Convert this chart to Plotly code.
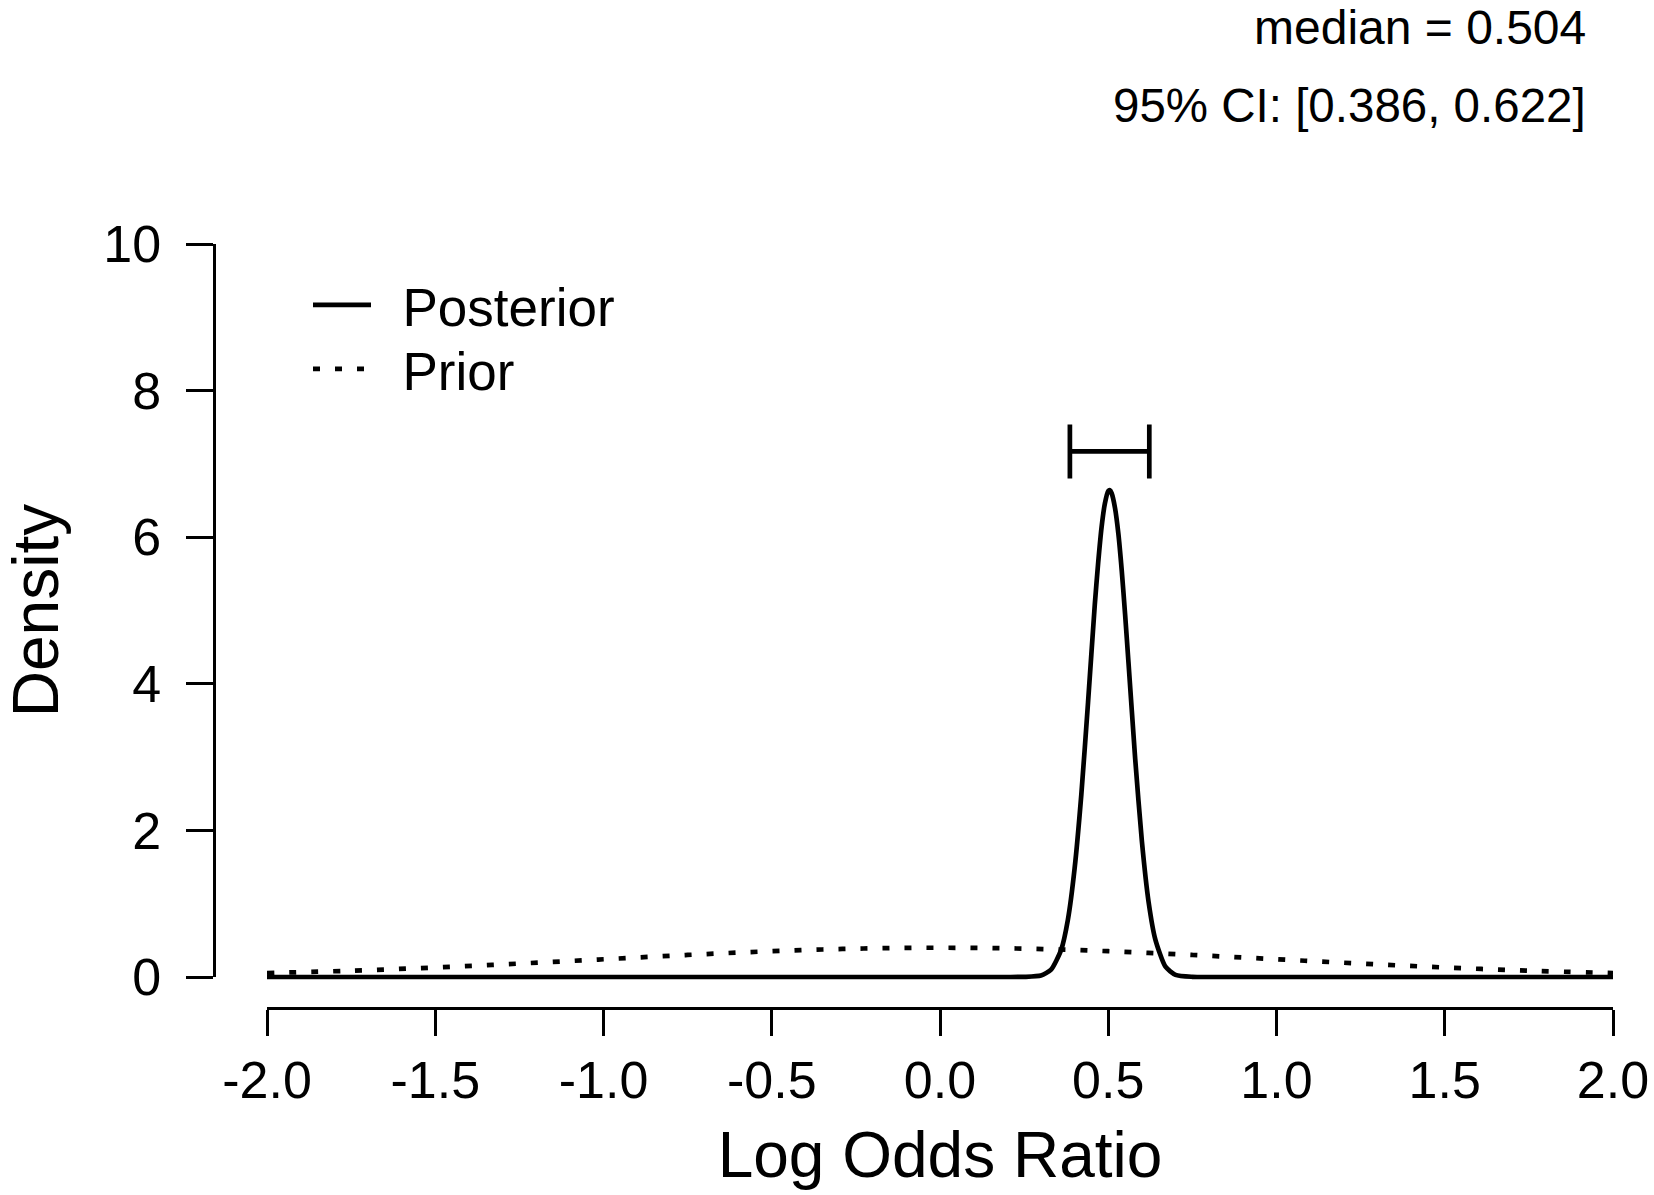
import plotly.graph_objects as go

# ---------------- data ----------------
posterior_x = [-2.0, -1.0, 0.0, 0.20, 0.25, 0.30, 0.33, 0.36, 0.38, 0.40, 0.42, 0.44,
               0.46, 0.47, 0.48, 0.49, 0.50, 0.505, 0.51, 0.52, 0.53, 0.54, 0.55,
               0.56, 0.58, 0.60, 0.62, 0.64, 0.67, 0.70, 0.75, 0.80, 1.0, 2.0]
posterior_y = [0.0, 0.0, 0.0, 0.0, 0.002, 0.02, 0.10, 0.37, 0.78, 1.48, 2.49, 3.75,
               5.08, 5.65, 6.13, 6.46, 6.63, 6.64, 6.60, 6.40, 6.05, 5.55, 4.95,
               4.30, 2.98, 1.85, 1.02, 0.51, 0.14, 0.03, 0.003, 0.0, 0.0, 0.0]

prior_x = [-2.0, -1.75, -1.5, -1.25, -1.0, -0.75, -0.5, -0.25, 0.0,
           0.25, 0.5, 0.75, 1.0, 1.25, 1.5, 1.75, 2.0]
prior_y = [0.054, 0.086, 0.130, 0.183, 0.242, 0.301, 0.352, 0.387, 0.399,
           0.387, 0.352, 0.301, 0.242, 0.183, 0.130, 0.086, 0.054]

ci_median = 0.504
ci_lower = 0.386
ci_upper = 0.622
ci_height = 7.17

x_tickvals = [-2.0, -1.5, -1.0, -0.5, 0.0, 0.5, 1.0, 1.5, 2.0]
x_ticktext = ["-2.0", "-1.5", "-1.0", "-0.5", "0.0", "0.5", "1.0", "1.5", "2.0"]
y_tickvals = [0, 2, 4, 6, 8, 10]
y_ticktext = ["0", "2", "4", "6", "8", "10"]

median_label = "median = 0.504"
ci_label = "95% CI: [0.386, 0.622]"

# ---------------- geometry (pixels of the page) ----------------
W, H = 1654, 1195
FONT = "Liberation Sans, Arial, Helvetica, sans-serif"


def fx(px):
    return px / W


def fy(px):
    return 1 - px / H


X_LEFT, X_RIGHT = 267, 1613      # pixel of x=-2 and x=2
Y_ZERO, Y_TOP = 977, 244         # pixel of y=0 and y=10
Y_AXIS_X = 213.5                 # detached y axis line
X_AXIS_Y = 1007                  # detached x axis line

px_per_unit_y = (Y_ZERO - Y_TOP) / 10.0
y_low = -(X_AXIS_Y - Y_ZERO) / px_per_unit_y

fig = go.Figure()

fig.add_trace(go.Scatter(
    x=posterior_x, y=posterior_y, mode="lines", name="\u2002Posterior",
    legend="legend",
    line=dict(color="black", width=4.7, shape="spline", smoothing=0.6),
    hoverinfo="skip"))

fig.add_trace(go.Scatter(
    x=prior_x, y=prior_y, mode="lines", name="\u2002Prior",
    legend="legend2",
    line=dict(color="black", width=4.7, dash="7px,15px", shape="spline"),
    hoverinfo="skip"))

fig.add_trace(go.Scatter(
    x=[ci_median], y=[ci_height], mode="markers", showlegend=False,
    marker=dict(size=1, color="rgba(0,0,0,0)"),
    error_x=dict(type="data", symmetric=False,
                 array=[ci_upper - ci_median],
                 arrayminus=[ci_median - ci_lower],
                 width=27, thickness=4.7, color="black"),
    hoverinfo="skip"))

# trace that makes the detached y axis exist
fig.add_trace(go.Scatter(x=[None], y=[None], yaxis="y2", showlegend=False,
                         hoverinfo="skip"))

legend_common = dict(xanchor="left", yanchor="middle",
                     font=dict(size=53, family=FONT, color="black"),
                     bgcolor="rgba(0,0,0,0)", itemwidth=58, tracegroupgap=0,
                     borderwidth=0)

fig.update_layout(
    template="none",
    width=W, height=H, autosize=False,
    margin=dict(l=0, r=0, t=0, b=0, pad=0),
    paper_bgcolor="white", plot_bgcolor="rgba(0,0,0,0)",
    font=dict(family=FONT, color="black"),
    showlegend=True,
    legend=dict(x=fx(308), y=fy(305), **legend_common),
    legend2=dict(x=fx(308), y=fy(369), **legend_common),
    xaxis=dict(domain=[fx(X_LEFT), fx(X_RIGHT)], range=[-2, 2], anchor="y",
               automargin=False,
               showline=True, linewidth=3, linecolor="black",
               ticks="outside", ticklen=26, tickwidth=2.5, tickcolor="black",
               tickvals=x_tickvals, ticktext=x_ticktext,
               tickfont=dict(size=52, color="black"), ticklabelstandoff=0,
               showgrid=False, zeroline=False,
               title=dict(text="Log Odds Ratio", font=dict(size=64, color="black"),
                          standoff=24)),
    yaxis=dict(domain=[fy(X_AXIS_Y), fy(Y_TOP)], range=[y_low, 10],
               visible=False, showgrid=False, zeroline=False, automargin=False),
    yaxis2=dict(domain=[fy(Y_ZERO), fy(Y_TOP)], range=[0, 10],
                anchor="free", position=fx(Y_AXIS_X), side="left",
                automargin=False,
                showline=True, linewidth=3, linecolor="black",
                ticks="outside", ticklen=27, tickwidth=2.5, tickcolor="black",
                tickvals=y_tickvals, ticktext=y_ticktext,
                tickfont=dict(size=52, color="black"), ticklabelstandoff=14,
                showgrid=False, zeroline=False,
                title=dict(text="Density", font=dict(size=64, color="black"),
                           standoff=63)),
    annotations=[
        dict(text=median_label, xref="paper", yref="paper", x=fx(1588), y=fy(27),
             xanchor="right", yanchor="middle", showarrow=False,
             font=dict(size=48, family=FONT, color="black")),
        dict(text=ci_label, xref="paper", yref="paper", x=fx(1588), y=fy(106),
             xanchor="right", yanchor="middle", showarrow=False,
             font=dict(size=47.5, family=FONT, color="black")),
    ],
)

# the page body gets no margin, so the figure fills the 1654x1195 window exactly
fig.write_html("out.html",
               config={"displayModeBar": False},
               post_script="document.body.style.margin='0px';")
